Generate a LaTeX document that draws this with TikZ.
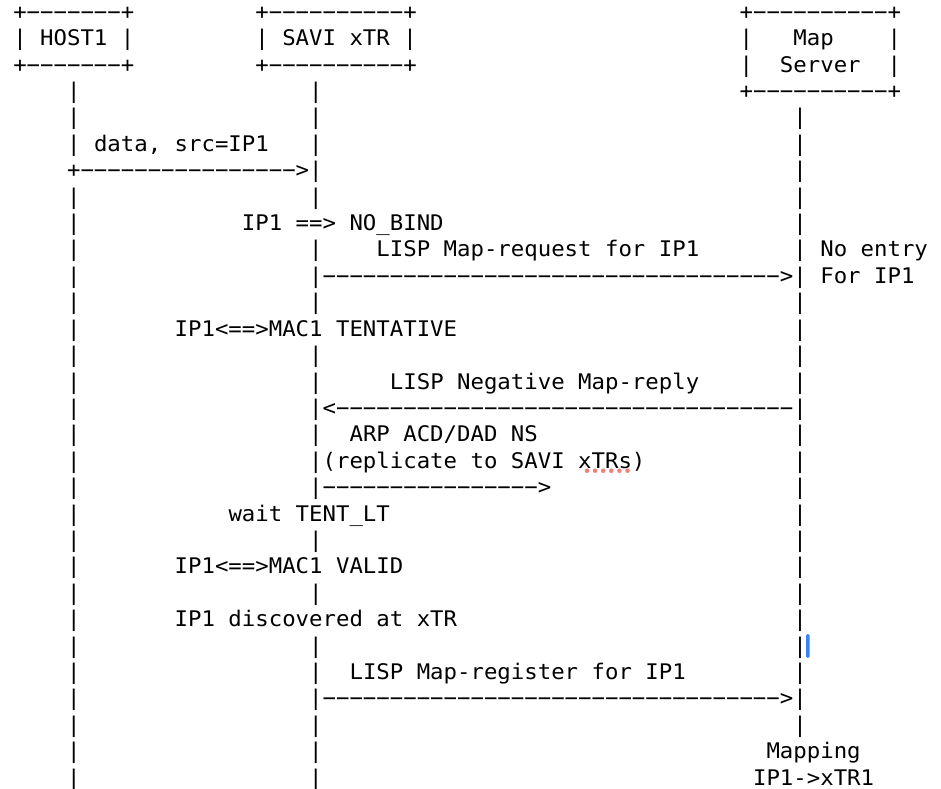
\documentclass[tikz,border=0pt]{standalone}
\usepackage{fontspec}
\setmonofont{DejaVu Sans Mono}[FakeStretch=1.039]
\definecolor{spellred}{RGB}{240,128,120}
\definecolor{cursorblue}{RGB}{59,130,246}
\tikzset{
  txt/.style={anchor=base west, inner sep=0pt, outer sep=0pt,
    font=\ttfamily\fontsize{21.5pt}{21.5pt}\selectfont, text=black}
}
% place text at line #1, column #2
\newcommand\txtat[3]{\node[txt] (t#1x#2) at ({13.3+13.45*#2},{795.11-26.41*#1}) {#3};}
\begin{document}
\frenchspacing
\begin{tikzpicture}[x=1pt,y=1pt]
\useasboundingbox (0,0) rectangle (941,788);
% boxes
\txtat{1}{0}{+−−−−−−−+}
\txtat{1}{18}{+−−−−−−−−−−+}
\txtat{1}{54}{+−−−−−−−−−−+}
\txtat{2}{0}{| HOST1 |}
\txtat{2}{18}{| SAVI xTR |}
\txtat{2}{54}{|}
\txtat{2}{58}{Map}
\txtat{2}{65}{|}
\txtat{3}{0}{+−−−−−−−+}
\txtat{3}{18}{+−−−−−−−−−−+}
\txtat{3}{54}{|}
\txtat{3}{57}{Server}
\txtat{3}{65}{|}
\txtat{4}{54}{+−−−−−−−−−−+}
% lifelines
\foreach \k in {4,5,6,8,9,10,11,12,13,14,15,16,17,18,19,20,21,22,23,24,25,26,27,28,29,30}
  {\node[txt] (h\k) at ({13.3+13.45*4},{795.11-26.41*\k}) {|};}
\foreach \k in {4,5,6,8,10,12,14,15,17,21,23,25,26,28,29,30}
  {\node[txt] (s\k) at ({13.3+13.45*22},{795.11-26.41*\k}) {|};}
\foreach \k in {5,6,7,8,9,10,12,13,14,15,17,18,19,20,21,22,23,24,25,26,28}
  {\node[txt] (m\k) at ({13.3+13.45*58},{795.11-26.41*\k}) {|};}
% messages
\txtat{6}{6}{data, src=IP1}
\txtat{7}{4}{+−−−−−−−−−−−−−−−−>|}
\txtat{9}{17}{IP1 ==> NO\_BIND}
\txtat{10}{27}{LISP Map-request for IP1}
\txtat{10}{60}{No entry}
\txtat{11}{22}{|−−−−−−−−−−−−−−−−−−−−−−−−−−−−−−−−−−>|}
\txtat{11}{60}{For IP1}
\txtat{13}{12}{IP1<==>MAC1 TENTATIVE}
\txtat{15}{28}{LISP Negative Map-reply}
\txtat{16}{22}{|<−−−−−−−−−−−−−−−−−−−−−−−−−−−−−−−−−−|}
\txtat{17}{25}{ARP ACD/DAD NS}
\txtat{18}{22}{|(replicate to SAVI xTRs)}
\txtat{19}{22}{|−−−−−−−−−−−−−−−−>}
\txtat{20}{16}{wait TENT\_LT}
\txtat{22}{12}{IP1<==>MAC1 VALID}
\txtat{24}{12}{IP1 discovered at xTR}
\txtat{26}{25}{LISP Map-register for IP1}
\txtat{27}{22}{|−−−−−−−−−−−−−−−−−−−−−−−−−−−−−−−−−−>|}
\txtat{29}{56}{Mapping}
\txtat{30}{55}{IP1->xTR1}
% editor marks
\foreach \i in {0,...,5}
  {\fill[spellred] ({587+8.1*\i},317.3) circle (2.3);}
\fill[cursorblue, rounded corners=1.5pt] (806,130) rectangle (809.5,154);
\end{tikzpicture}
\end{document}
